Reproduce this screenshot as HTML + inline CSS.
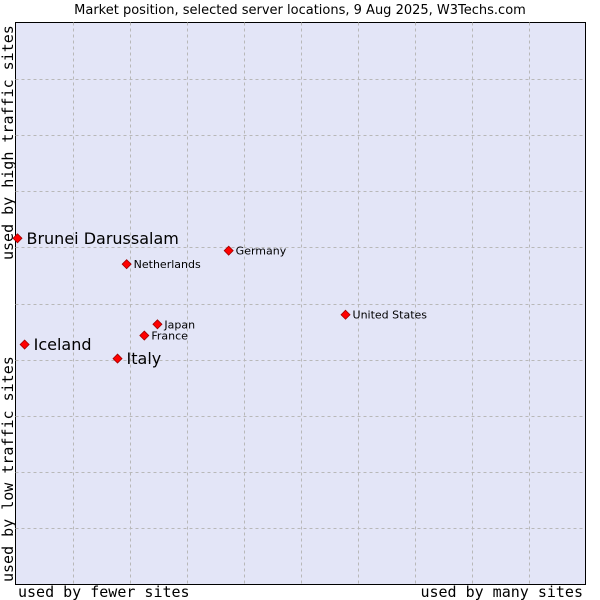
<!DOCTYPE html>
<html><head><meta charset="utf-8"><style>
body{margin:0;background:#fff;width:600px;height:600px;overflow:hidden}
svg{display:block}
</style></head><body>
<svg id="chart" width="600" height="600" xmlns="http://www.w3.org/2000/svg">
<text x="300" y="14" text-anchor="middle" font-family="DejaVu Sans, sans-serif" font-size="13" fill="#000">Market position, selected server locations, 9 Aug 2025, W3Techs.com</text>
<rect x="15.5" y="22.5" width="570" height="562" fill="#e3e5f7" stroke="#000" stroke-width="1"/>
<g id="grid"></g>
<g id="points"></g>
<text x="18" y="597" font-family="DejaVu Sans Mono, monospace" font-size="15">used by fewer sites</text>
<text x="583" y="597" text-anchor="end" font-family="DejaVu Sans Mono, monospace" font-size="15">used by many sites</text>
<text transform="translate(13,582) rotate(-90)" font-family="DejaVu Sans Mono, monospace" font-size="15">used by low traffic sites</text>
<text transform="translate(13,260) rotate(-90)" font-family="DejaVu Sans Mono, monospace" font-size="15">used by high traffic sites</text>
</svg>
<script>
const names = ["Brunei Darussalam","Iceland","Italy","France","Japan","Netherlands","Germany","United States"];
const xs = [0.35,1.6,17.9,22.6,24.9,19.5,37.4,57.9];
const ys = [61.6,42.7,40.2,44.3,46.3,57.0,59.4,48.0];
const big = [true,true,true,false,false,false,false,false];
const gridTicks = [10,20,30,40,50,60,70,80,90];
const X0=15.5,X1=585.5,Y0=584.5,Y1=22.5;
const sx=v=>X0+(X1-X0)*v/100;
const sy=v=>Y0-(Y0-Y1)*v/100;
const NS="http://www.w3.org/2000/svg";
const grid=document.getElementById('grid');
gridTicks.forEach(t=>{
  const v=document.createElementNS(NS,'line');
  v.setAttribute('x1',Math.round(sx(t))+0.5);v.setAttribute('x2',Math.round(sx(t))+0.5);
  v.setAttribute('y1',Y1);v.setAttribute('y2',Y0);
  v.setAttribute('stroke','#b8b8b8');v.setAttribute('stroke-dasharray','3,3');
  
  
  grid.appendChild(v);
  const h=document.createElementNS(NS,'line');
  h.setAttribute('y1',Math.round(sy(t))+0.5);h.setAttribute('y2',Math.round(sy(t))+0.5);
  h.setAttribute('x1',X0);h.setAttribute('x2',X1);
  h.setAttribute('stroke','#b8b8b8');h.setAttribute('stroke-dasharray','3,3');
  
  
  grid.appendChild(h);
});
const pts=document.getElementById('points');
names.forEach((n,i)=>{
  const x=sx(xs[i]),y=sy(ys[i]);
  const d=document.createElementNS(NS,'polygon');
  d.setAttribute('points',`${x},${y-4.5} ${x+4.5},${y} ${x},${y+4.5} ${x-4.5},${y}`);
  d.setAttribute('fill','#ff0000');d.setAttribute('stroke','#a00000');d.setAttribute('stroke-width','0.8');
  
  
  pts.appendChild(d);
  const t=document.createElementNS(NS,'text');
  t.setAttribute('x',x+(big[i]?9:7));
  t.setAttribute('y',y+(big[i]?5.5:4));
  t.setAttribute('font-family','DejaVu Sans, sans-serif');
  t.setAttribute('font-size',big[i]?'16':'11');
  t.textContent=n;
  
  
  pts.appendChild(t);
});
</script>
</body></html>
